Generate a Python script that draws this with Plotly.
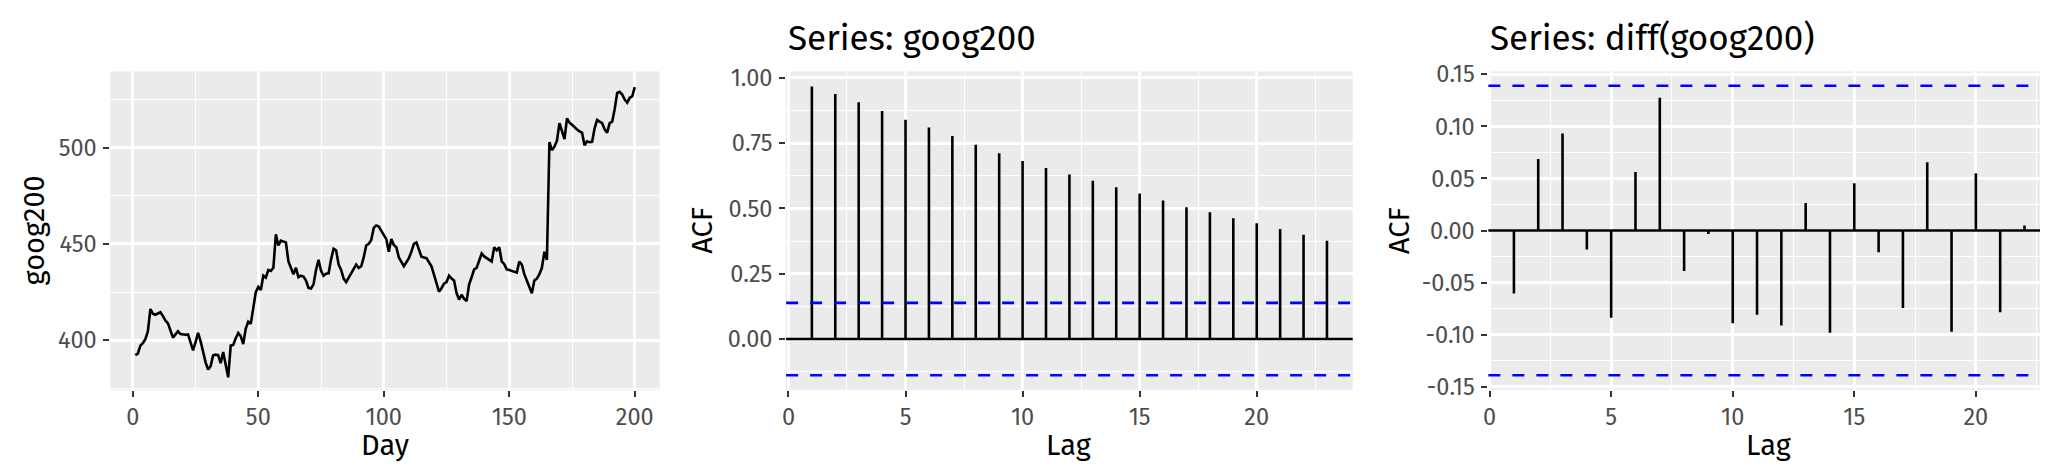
import plotly.graph_objects as go

# ---------------- data ----------------
goog200 = [
    392.2, 393.0, 397.2, 398.5, 400.5, 404.6, 416.2, 413.7, 413.2, 413.7,
    414.5, 412.5, 410.2, 408.7, 405.0, 401.3, 403.0, 404.6, 403.2, 403.0,
    402.8, 403.0, 398.5, 394.7, 399.0, 403.8, 399.5, 393.1, 388.5, 384.8,
    386.5, 392.2, 392.5, 392.2, 388.1, 393.9, 387.0, 380.7, 397.2, 397.5,
    401.0, 403.8, 402.1, 398.0, 406.0, 409.6, 408.5, 416.2, 425.0, 427.7,
    426.1, 433.5, 432.5, 436.5, 436.0, 437.6, 455.0, 449.2, 451.7, 451.2,
    450.8, 440.9, 437.5, 434.3, 437.6, 432.7, 433.5, 433.0, 431.0, 427.2,
    426.9, 429.0, 436.5, 441.7, 436.0, 433.5, 434.5, 434.7, 442.0, 447.5,
    446.7, 439.3, 436.5, 432.0, 430.2, 432.5, 434.3, 436.5, 439.3, 437.5,
    438.4, 443.0, 449.2, 450.0, 452.0, 458.3, 459.6, 459.0, 456.6, 455.0,
    452.5, 445.9, 452.5, 449.5, 448.3, 443.0, 440.9, 438.4, 440.5, 442.6,
    446.0, 450.0, 450.8, 447.5, 443.4, 443.0, 442.6, 440.5, 438.4, 434.0,
    429.4, 425.2, 427.0, 429.4, 430.2, 433.5, 432.0, 431.0, 424.5, 421.1,
    423.6, 421.5, 420.3, 429.0, 432.7, 436.8, 437.6, 440.9, 445.0, 443.5,
    442.6, 441.5, 440.9, 448.3, 446.7, 448.3, 440.9, 439.5, 436.8, 436.4,
    436.0, 435.5, 435.1, 440.9, 439.3, 434.3, 431.0, 427.5, 424.4, 431.0,
    432.0, 434.3, 437.6, 445.9, 441.7, 502.8, 498.7, 500.5, 503.6, 512.7,
    508.0, 504.5, 515.2, 513.0, 511.9, 510.5, 509.4, 508.5, 507.8, 501.2,
    503.3, 502.8, 503.0, 510.0, 514.4, 513.5, 512.7, 509.5, 507.8, 512.7,
    513.5, 520.0, 528.4, 529.0, 527.6, 525.0, 523.4, 525.9, 526.7, 531.4,
]
days = list(range(1, len(goog200) + 1))

acf_lags = list(range(1, 24))
acf_goog = [0.967, 0.938, 0.907, 0.873, 0.840, 0.810, 0.778, 0.744, 0.712, 0.682,
            0.655, 0.630, 0.606, 0.581, 0.557, 0.531, 0.505, 0.486, 0.463, 0.443,
            0.421, 0.399, 0.376]
ci_goog = 0.1386

dacf_lags = list(range(1, 23))
acf_diff = [-0.0604, 0.0686, 0.0932, -0.0182, -0.0838, 0.0562, 0.1275, -0.0389,
            -0.0033, -0.0889, -0.0808, -0.0911, 0.0264, -0.0981, 0.0455, -0.0209,
            -0.0744, 0.0656, -0.0971, 0.0549, -0.0783, 0.0049]
ci_diff = 0.1389

day_ticks = [0, 50, 100, 150, 200]
price_ticks = [400, 450, 500]
lag_ticks = [0, 5, 10, 15, 20]
acf_ticks = [0.0, 0.25, 0.5, 0.75, 1.0]
dacf_ticks = [-0.15, -0.10, -0.05, 0.0, 0.05, 0.10, 0.15]

titles = ["Series: goog200", "Series: diff(goog200)"]

# ---------------- styling ----------------
FONT = "Fira Sans, Roboto, Open Sans, sans-serif"
W, H = 2048, 467
BG = "#EBEBEB"
TICKFONT = dict(family=FONT, size=23.5, color="#4D4D4D")
AXTITLEFONT = dict(family=FONT, size=29, color="#000000")
TITLEFONT = dict(family=FONT, size=35, color="#000000")

top_px, bot_px = 55, 389
ydom = [1 - bot_px / H, 1 - top_px / H]
panels = {
    1: [97.6 / W, 648.3 / W],
    2: [775.0 / W, 1343.0 / W],
    3: [1479.0 / W, 2042.0 / W],
}


def segs(lags, vals):
    xs, ys = [], []
    for l, v in zip(lags, vals):
        xs += [l, l, None]
        ys += [0, v, None]
    return xs, ys


fig = go.Figure()
fig.add_trace(go.Scatter(x=days, y=goog200, mode="lines",
                         line=dict(color="black", width=2.6),
                         xaxis="x", yaxis="y", showlegend=False))
x2, y2 = segs(acf_lags, acf_goog)
fig.add_trace(go.Scatter(x=x2, y=y2, mode="lines",
                         line=dict(color="black", width=2.6),
                         xaxis="x2", yaxis="y2", showlegend=False))
x3, y3 = segs(dacf_lags, acf_diff)
fig.add_trace(go.Scatter(x=x3, y=y3, mode="lines",
                         line=dict(color="black", width=2.6),
                         xaxis="x3", yaxis="y3", showlegend=False))


def axis_common(letter):
    return dict(
        showgrid=True, gridcolor="white", gridwidth=2.6,
        zeroline=False, showline=False,
        ticks="outside", ticklen=6, tickwidth=2, tickcolor="#333333",
        tickfont=TICKFONT, ticklabelstandoff=(0 if letter == "x" else 2),
        minor=dict(showgrid=True, gridcolor="white", gridwidth=1.3),
    )


lay = dict(
    width=W, height=H,
    margin=dict(l=0, r=0, t=0, b=0),
    paper_bgcolor="white", plot_bgcolor=BG,
    showlegend=False,
)

# panel 1
a = axis_common("x")
a.update(domain=panels[1], range=[-8.95, 209.95], tickvals=day_ticks,
         ticktext=[str(v) for v in day_ticks], anchor="y")
a["minor"].update(tickvals=[25, 75, 125, 175])
lay["xaxis"] = a
a = axis_common("y")
a.update(domain=ydom, range=[374.3, 539.6], tickvals=price_ticks,
         ticktext=[str(v) for v in price_ticks], anchor="x")
a["minor"].update(tickvals=[375, 425, 475, 525])
lay["yaxis"] = a

# panel 2
a = axis_common("x")
a.update(domain=panels[2], range=[-0.1, 24.1], tickvals=lag_ticks,
         ticktext=[str(v) for v in lag_ticks], anchor="y2")
a["minor"].update(tickvals=[2.5, 7.5, 12.5, 17.5, 22.5])
lay["xaxis2"] = a
a = axis_common("y")
a.update(domain=ydom, range=[-0.194, 1.025], tickvals=acf_ticks,
         ticktext=[f"{v:.2f}" for v in acf_ticks], anchor="x2")
a["minor"].update(tickvals=[-0.125, 0.125, 0.375, 0.625, 0.875])
lay["yaxis2"] = a

# panel 3
a = axis_common("x")
a.update(domain=panels[3], range=[-0.05, 23.05], tickvals=lag_ticks,
         ticktext=[str(v) for v in lag_ticks], anchor="y3")
a["minor"].update(tickvals=[2.5, 7.5, 12.5, 17.5, 22.5])
lay["xaxis3"] = a
a = axis_common("y")
a.update(domain=ydom, range=[-0.1527, 0.1527], tickvals=dacf_ticks,
         ticktext=[f"{v:.2f}" for v in dacf_ticks], anchor="x3")
a["minor"].update(tickvals=[-0.125, -0.075, -0.025, 0.025, 0.075, 0.125])
lay["yaxis3"] = a

fig.update_layout(**lay)

# zero lines and confidence bounds
shapes = []
for xr, yr, ci in [("x2", "y2", ci_goog), ("x3", "y3", ci_diff)]:
    shapes.append(dict(type="line", xref=f"{xr} domain", yref=yr, x0=0, x1=1,
                       y0=0, y1=0, line=dict(color="black", width=2.6), layer="above"))
    for c in (ci, -ci):
        shapes.append(dict(type="line", xref=f"{xr} domain", yref=yr, x0=0, x1=1,
                           y0=c, y1=c, line=dict(color="#0000FF", width=2.6,
                                                 dash="12px,12px"), layer="above"))
fig.update_layout(shapes=shapes)

# titles and axis labels
ann = []
for p, t in [(2, titles[0]), (3, titles[1])]:
    ann.append(dict(text=t, x=panels[p][0], y=1 - 20 / H, xref="paper", yref="paper",
                    xanchor="left", yanchor="middle", showarrow=False,
                    font=TITLEFONT))
for p, lab in [(1, "Day"), (2, "Lag"), (3, "Lag")]:
    ann.append(dict(text=lab, x=(panels[p][0] + panels[p][1]) / 2, y=1 - 448 / H,
                    xref="paper", yref="paper", xanchor="center", yanchor="middle",
                    showarrow=False, font=AXTITLEFONT))
for xpx, lab in [(22, "goog200"), (691, "ACF"), (1390, "ACF")]:
    ann.append(dict(text=lab, x=xpx / W, y=(ydom[0] + ydom[1]) / 2, xref="paper",
                    yref="paper", xanchor="center", yanchor="middle", textangle=-90,
                    showarrow=False, font=AXTITLEFONT))
fig.update_layout(annotations=ann)

fig.write_html("out.html")
